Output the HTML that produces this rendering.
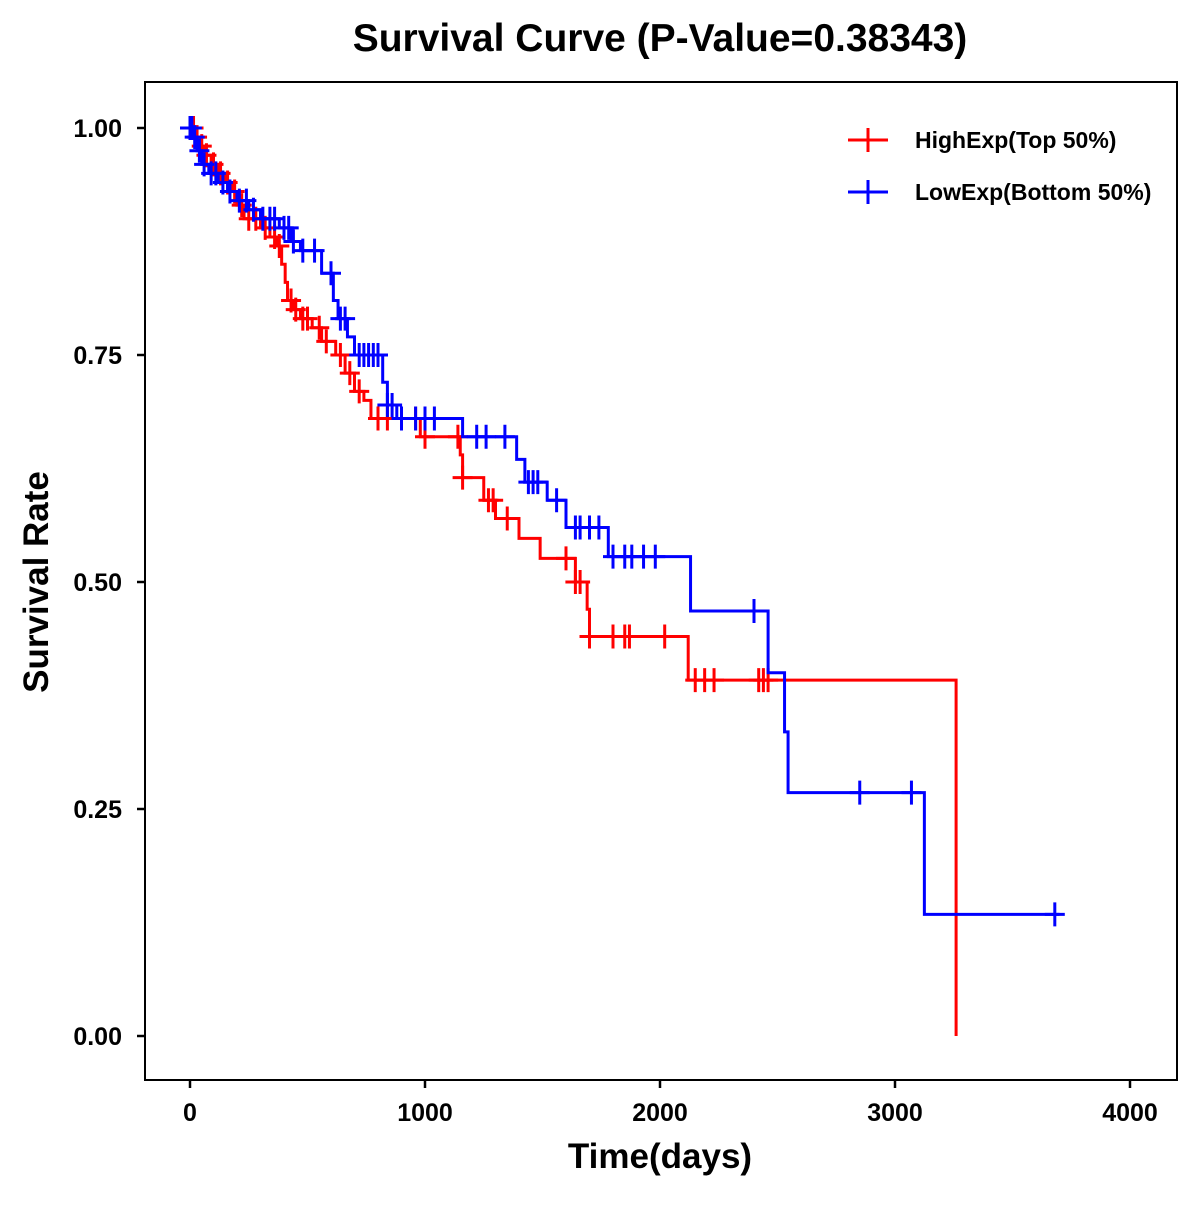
<!DOCTYPE html>
<html><head><meta charset="utf-8"><style>
body{margin:0;background:#fff;font-family:"Liberation Sans",sans-serif}
svg text{font-family:"Liberation Sans",sans-serif;font-weight:bold}
</style></head><body>
<svg id="chart" width="1200" height="1200" xmlns="http://www.w3.org/2000/svg">
<text x="660" y="51" text-anchor="middle" font-size="39">Survival Curve (P-Value=0.38343)</text>
<rect x="145" y="82" width="1032" height="998" fill="none" stroke="#000" stroke-width="2"/>
<text x="660" y="1168" text-anchor="middle" font-size="35">Time(days)</text>
<text transform="translate(48,582) rotate(-90)" text-anchor="middle" font-size="35">Survival Rate</text>
<g id="axes"></g>
<g id="series"></g>
<g>
<line x1="848" y1="140" x2="888" y2="140" stroke="#f00" stroke-width="3"/><line x1="868" y1="128" x2="868" y2="152" stroke="#f00" stroke-width="3"/>
<text x="915" y="148" font-size="23">HighExp(Top 50%)</text>
<line x1="848" y1="192" x2="888" y2="192" stroke="#00f" stroke-width="3"/><line x1="868" y1="180" x2="868" y2="204" stroke="#00f" stroke-width="3"/>
<text x="915" y="200" font-size="23">LowExp(Bottom 50%)</text>
</g>
</svg>
<script>
const xTicks=[0,1000,2000,3000,4000];
const yTicks=[0,0.25,0.5,0.75,1.0];
const yTickLabels=["0.00","0.25","0.50","0.75","1.00"];
const highTimes=[0,20,40,60,90,120,150,180,200,230,300,340,370,390,405,415,440,470,520,560,620,660,700,740,770,980,1150,1160,1250,1300,1400,1490,1640,1690,1700,2120,3260];
const highSurv=[1,0.99,0.98,0.97,0.96,0.95,0.94,0.93,0.915,0.9,0.89,0.88,0.87,0.85,0.83,0.81,0.8,0.79,0.78,0.765,0.75,0.73,0.71,0.7,0.68,0.66,0.64,0.615,0.59,0.57,0.548,0.526,0.5,0.47,0.44,0.392,0.0];
const highEnd=3260;
const highCensor=[5,15,30,50,70,100,130,160,190,220,250,280,320,360,380,430,450,480,500,550,580,640,680,720,800,840,900,960,1000,1140,1160,1270,1290,1350,1600,1640,1660,1700,1800,1850,1870,2020,2150,2190,2230,2420,2440,2460];
const lowTimes=[0,10,30,50,80,120,160,200,250,300,380,430,470,560,610,630,670,700,820,840,880,1160,1390,1425,1520,1600,1780,2130,2460,2530,2545,3125];
const lowSurv=[1,0.99,0.975,0.96,0.95,0.94,0.93,0.92,0.91,0.9,0.89,0.875,0.865,0.84,0.81,0.79,0.77,0.75,0.72,0.695,0.68,0.66,0.635,0.61,0.59,0.56,0.528,0.468,0.4,0.335,0.268,0.134];
const lowEnd=3700;
const lowCensor=[0,8,20,40,60,90,110,140,170,210,240,270,310,340,360,400,420,440,480,530,600,640,660,720,740,760,780,800,840,860,900,960,1000,1040,1220,1260,1340,1440,1460,1480,1560,1640,1660,1700,1740,1800,1850,1880,1930,1980,2400,2850,3070,3680];
const X=t=>190+t*0.235, Y=s=>1036-s*908;
const NS="http://www.w3.org/2000/svg";
const axes=document.getElementById('axes'), series=document.getElementById('series');
function mk(tag,attrs,parent){const e=document.createElementNS(NS,tag);for(const k in attrs)e.setAttribute(k,attrs[k]);parent.appendChild(e);return e;}
xTicks.forEach(t=>{
 const l=mk('line',{x1:X(t),x2:X(t),y1:1080,y2:1088,stroke:'#000','stroke-width':2.5},axes);
 
 
 const tx=mk('text',{x:X(t),y:1121,'text-anchor':'middle','font-size':25},axes);tx.textContent=t;
 
 
});
yTicks.forEach((v,i)=>{
 const l=mk('line',{x1:137,x2:145,y1:Y(v),y2:Y(v),stroke:'#000','stroke-width':2.5},axes);
 
 
 const tx=mk('text',{x:122,y:Y(v)+9,'text-anchor':'end','font-size':25},axes);tx.textContent=yTickLabels[i];
 
 
});
function stepAt(times,surv,t){let s=surv[0];for(let i=0;i<times.length;i++){if(times[i]<=t)s=surv[i];}return s;}
function draw(times,surv,end,cens,color,name){
 let d='M'+X(times[0])+','+Y(surv[0]);
 for(let i=1;i<times.length;i++){d+=' H'+X(times[i])+' V'+Y(surv[i]);}
 if(end>times[times.length-1])d+=' H'+X(end);
 const p=mk('path',{d:d,fill:'none',stroke:color,'stroke-width':3},series);
 
 
 cens.forEach(t=>{
  const s=stepAt(times,surv,t),x=X(t),y=Y(s);
  const g=mk('path',{d:`M${x-10},${y} H${x+10} M${x},${y-12} V${y+12}`,stroke:color,'stroke-width':3},series);
  
  
 });
}
draw(highTimes,highSurv,highEnd,highCensor,'#f00','high-exp');
draw(lowTimes,lowSurv,lowEnd,lowCensor,'#00f','low-exp');
</script>
</body></html>
